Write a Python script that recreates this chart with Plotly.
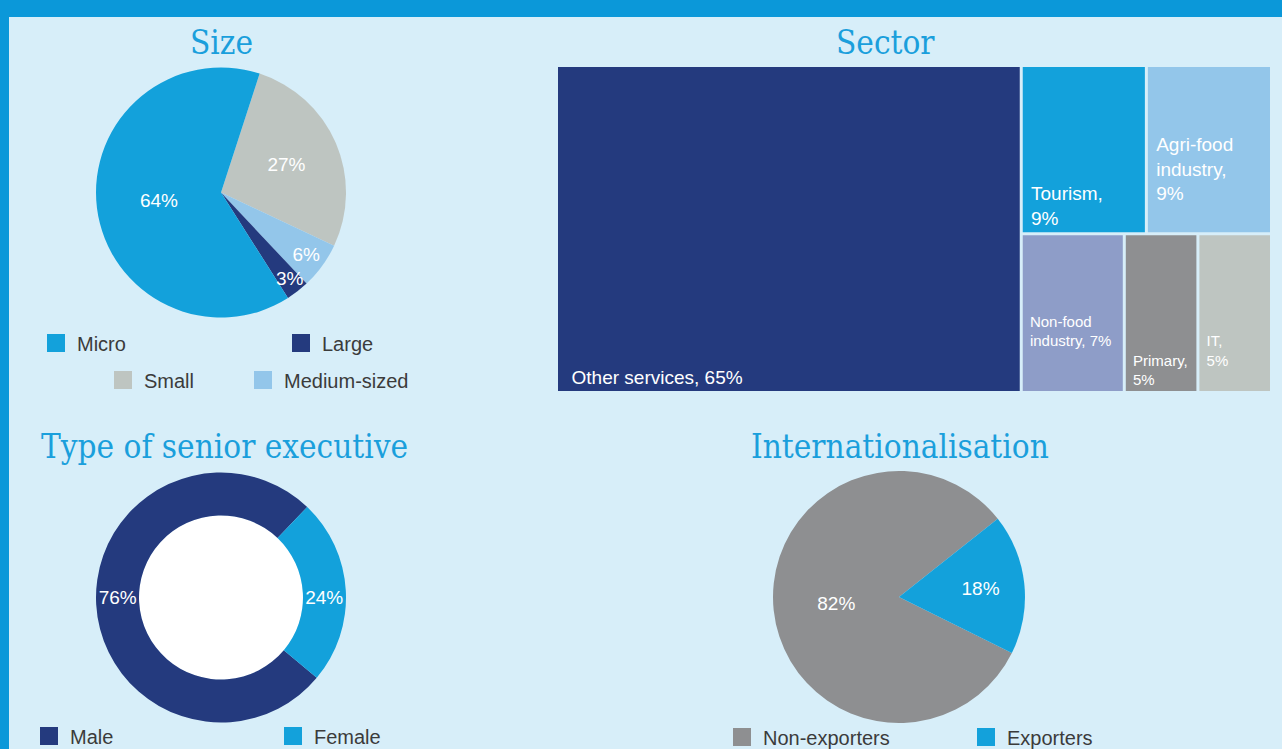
import math
import plotly.graph_objects as go

W, H = 1282, 749

# ---------------- data ----------------
size_categories = ["Small", "Medium-sized", "Large", "Micro"]
size_values = [27, 6, 3, 64]
size_legend_order = ["Micro", "Large", "Small", "Medium-sized"]

sector_categories = ["Other services", "Tourism", "Agri-food industry",
                     "Non-food industry", "Primary", "IT"]
sector_values = [65, 9, 9, 7, 5, 5]
sector_groups = ["", "Top row", "Top row", "Bottom row", "Bottom row", "Bottom row"]

exec_categories = ["Male", "Female"]
exec_values = [76, 24]

intl_categories = ["Non-exporters", "Exporters"]
intl_values = [82, 18]

# ---------------- styles ----------------
NAVY = "#243a7e"
BLUE = "#13a1db"
SILVER = "#bec5c1"
LIGHTBLUE = "#93c6ea"
LAVENDER = "#8e9dc8"
GRAY = "#8e8f91"
BG = "#d7eef9"
FRAME = "#0b98d9"
TITLE_C = "#1a9fdc"
TEXT_C = "#3b3b3b"

colors = {
    "Micro": BLUE, "Small": SILVER, "Medium-sized": LIGHTBLUE, "Large": NAVY,
    "Other services": NAVY, "Tourism": BLUE, "Agri-food industry": LIGHTBLUE,
    "Non-food industry": LAVENDER, "Primary": GRAY, "IT": SILVER,
    "Male": NAVY, "Female": BLUE, "Non-exporters": GRAY, "Exporters": BLUE,
}

# treemap display text (line layout)
NB = "&nbsp;"
sector_text = {
    "Other services": NB + NB + "Other services, {}%",
    "Tourism": NB + "Tourism,<br>" + NB + "{}%",
    "Agri-food industry": NB + "Agri-food<br>" + NB + "industry,<br>" + NB + "{}%<br>" + NB,
    "Non-food industry": NB + "Non-food<br>" + NB + "industry, {}%<br>" + NB + "<br>" + NB,
    "Primary": NB + "Primary,<br>" + NB + "{}%",
    "IT": NB + "IT,<br>" + NB + "{}%<br>" + NB,
}
sector_fsize = {"Other services": 19, "Tourism": 19, "Agri-food industry": 19,
                "Non-food industry": 15, "Primary": 15, "IT": 15}


def px(x):
    return x / W


def py(y):
    return 1 - y / H


def dom(cx, cy, r):
    return dict(x=[px(cx - r), px(cx + r)], y=[py(cy + r), py(cy - r)])


fig = go.Figure()

PIE_FONT = dict(family="Liberation Sans, Arial, sans-serif", size=19, color="white")

# Size pie (the thin "Large" slice gets its label as an annotation so it is not shrunk)
SIZE_C, SIZE_R, SIZE_ROT = (221, 192.5), 125, 18
size_tt = ["" if c == "Large" else "%{value}%" for c in size_categories]
fig.add_trace(go.Pie(
    labels=size_categories, values=size_values, sort=False,
    direction="clockwise", rotation=SIZE_ROT,
    marker=dict(colors=[colors[c] for c in size_categories], line=dict(width=0)),
    texttemplate=size_tt, textposition="inside",
    insidetextorientation="horizontal", insidetextfont=PIE_FONT,
    domain=dom(SIZE_C[0], SIZE_C[1], SIZE_R), showlegend=False, hoverinfo="label+value",
))

# Sector treemap
ids = ["Sector", "Other services", "Rest", "Top row", "Bottom row"] + sector_categories[1:]
parents = ["", "Sector", "Sector", "Rest", "Rest"] + sector_groups[1:]
values = [0, sector_values[0], 0, 0, 0] + sector_values[1:]
tm_colors = ["rgba(0,0,0,0)", colors["Other services"]] + ["rgba(0,0,0,0)"] * 3 + \
    [colors[c] for c in sector_categories[1:]]
lookup = dict(zip(sector_categories, sector_values))
tm_text = [sector_text[i].format(lookup[i]) if i in lookup else "" for i in ids]
tm_sizes = [sector_fsize.get(i, 10) for i in ids]

fig.add_trace(go.Treemap(
    ids=ids, labels=ids, parents=parents, values=values,
    branchvalues="remainder", sort=False,
    text=tm_text, textinfo="text", textposition="bottom left",
    textfont=dict(family="Liberation Sans, Arial, sans-serif", size=tm_sizes, color="white"),
    marker=dict(colors=tm_colors, line=dict(width=0), pad=dict(t=0, l=0, r=0, b=0)),
    tiling=dict(packing="slice-dice", pad=3),
    pathbar=dict(visible=False), root=dict(color="rgba(0,0,0,0)"),
    domain=dict(x=[px(558), px(1270)], y=[py(391), py(67)]),
    hoverinfo="skip",
))

# Senior executive donut
EXEC_C, EXEC_R, EXEC_HOLE = (221, 597.5), 125, 0.656
fig.add_trace(go.Pie(
    labels=exec_categories, values=exec_values, sort=False,
    direction="clockwise", rotation=130, hole=EXEC_HOLE,
    marker=dict(colors=[colors[c] for c in exec_categories], line=dict(width=0)),
    texttemplate="%{value}%", textposition="inside",
    insidetextorientation="radial", insidetextfont=PIE_FONT,
    domain=dom(EXEC_C[0], EXEC_C[1], EXEC_R), showlegend=False,
))

# Internationalisation pie
fig.add_trace(go.Pie(
    labels=intl_categories, values=intl_values, sort=False,
    direction="clockwise", rotation=116.4,
    marker=dict(colors=[colors[c] for c in intl_categories], line=dict(width=0)),
    texttemplate="%{value}%", textposition="inside",
    insidetextorientation="horizontal", insidetextfont=PIE_FONT,
    domain=dom(899, 597, 126), showlegend=False,
))

shapes = [
    dict(type="rect", xref="paper", yref="paper", x0=0, x1=1, y0=py(17), y1=1,
         fillcolor=FRAME, line=dict(width=0), layer="below"),
    dict(type="rect", xref="paper", yref="paper", x0=0, x1=px(9), y0=0, y1=1,
         fillcolor=FRAME, line=dict(width=0), layer="below"),
    # white centre of the donut
    dict(type="circle", xref="paper", yref="paper",
         x0=px(EXEC_C[0] - EXEC_R * EXEC_HOLE), x1=px(EXEC_C[0] + EXEC_R * EXEC_HOLE),
         y0=py(EXEC_C[1] + EXEC_R * EXEC_HOLE), y1=py(EXEC_C[1] - EXEC_R * EXEC_HOLE),
         fillcolor="white", line=dict(width=0), layer="below"),
]
annotations = []

# label for the thin "Large" slice, placed at the slice's mid angle
tot = sum(size_values)
cum = 0
for c, v in zip(size_categories, size_values):
    if c == "Large":
        ang = math.radians(SIZE_ROT + (cum + v / 2) / tot * 360 - 3)
        rr = SIZE_R * 0.88
        annotations.append(dict(
            text=f"{v}%", x=px(SIZE_C[0] + rr * math.sin(ang) - 3),
            y=py(SIZE_C[1] - rr * math.cos(ang) + 3), xref="paper", yref="paper",
            xanchor="center", yanchor="middle", showarrow=False, font=PIE_FONT))
    cum += v

TITLE_FONT = dict(family="DejaVu Serif Condensed, DejaVu Serif, serif", size=33, color=TITLE_C)
titles = [("Size", 221, "center"), ("Sector", 885, "center"),
          ("Type of senior executive", 39, "left"), ("Internationalisation", 900, "center")]
title_y = [42, 42, 446, 446]
for (t, x, anc), y in zip(titles, title_y):
    annotations.append(dict(text=t, x=px(x), y=py(y), xref="paper", yref="paper",
                            xanchor=anc, yanchor="middle", showarrow=False, font=TITLE_FONT))

LEG_FONT = dict(family="Liberation Sans, Arial, sans-serif", size=20, color=TEXT_C)
legend_slots = {
    "Micro": (47, 343), "Large": (292, 343), "Small": (114, 380), "Medium-sized": (254, 380),
    "Male": (40, 736), "Female": (284, 736),
    "Non-exporters": (733, 737), "Exporters": (977, 737),
}
for name in size_legend_order + exec_categories + intl_categories:
    x, y = legend_slots[name]
    shapes.append(dict(type="rect", xref="paper", yref="paper",
                       x0=px(x), x1=px(x + 18), y0=py(y + 9), y1=py(y - 9),
                       fillcolor=colors[name], line=dict(width=0)))
    annotations.append(dict(text=name, x=px(x + 28), y=py(y + 1), xref="paper", yref="paper",
                            xanchor="left", yanchor="middle", showarrow=False, font=LEG_FONT))

fig.update_layout(
    width=W, height=H, autosize=False,
    margin=dict(l=0, r=0, t=0, b=0),
    paper_bgcolor=BG, plot_bgcolor=BG,
    shapes=shapes, annotations=annotations,
    showlegend=False,
)

fig.write_html("out.html", config={"displayModeBar": False},
               post_script="document.body.style.margin='0';document.body.style.overflow='hidden';")
